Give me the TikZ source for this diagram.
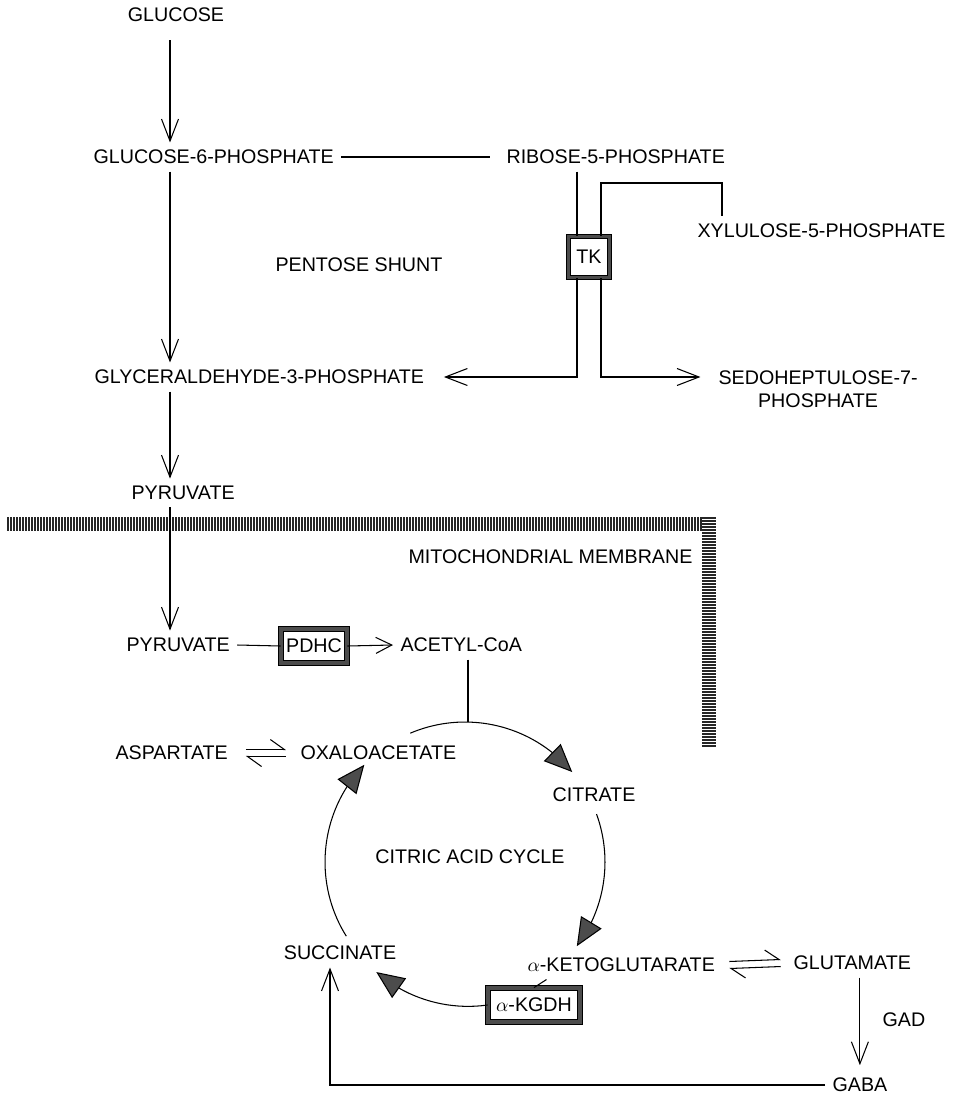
\documentclass[tikz,border=0pt]{standalone}
\usepackage{fontspec}
\setmainfont{Liberation Sans}
\usetikzlibrary{arrows.meta,bending}

\begin{document}
\begin{tikzpicture}[x=0.02cm,y=0.02cm,line width=0.6pt]

\tikzstyle{m}=[inner sep=4pt, font=\fontsize{11.2}{13.4}\selectfont];
\tikzstyle{enz}=[m, draw=black, line width=0.5pt, double=black!70, double distance=2.2pt, fill=white, minimum height=0.68cm, inner sep=2pt];
\tikzstyle{e}=[-{Straight Barb[length=0.44cm,width=0.34cm]}];
\tikzstyle{e2}=[-{Straight Barb[length=0.32cm,width=0.32cm]}];
\tikzstyle{hp}=[-{Straight Barb[left,length=0.28cm,width=0.4cm]}];
\tikzstyle{c}=[-{Triangle[length=0.56cm,width=0.48cm,fill=black!70]}];
\tikzstyle{mb}=[line width=0.8pt, black!85];

\useasboundingbox (0,0) rectangle (953,-1095);

% metabolites
\node[m] (glc) at (176,-15) {GLUCOSE};
\node[m, anchor=west] (g6p) at (86,-157) {GLUCOSE-6-PHOSPHATE};
\node[m, anchor=west] (r5p) at (499,-157) {RIBOSE-5-PHOSPHATE};
\node[m, anchor=west] (xyl) at (690,-231) {XYLULOSE-5-PHOSPHATE};
\node[m, anchor=east] (pent) at (450,-265) {PENTOSE SHUNT};
\node[enz, minimum size=0.82cm] (tk) at (589,-257) {TK};
\node[m, anchor=west] (g3p) at (87,-377) {GLYCERALDEHYDE-3-PHOSPHATE};
\node[m, anchor=north west, align=center] (sed) at (711,-363) {SEDOHEPTULOSE-7-\\PHOSPHATE};
\node[m, anchor=west] (pyr1) at (124,-493) {PYRUVATE};
\node[m, anchor=east] (mito) at (700,-557) {MITOCHONDRIAL MEMBRANE};
\node[m, anchor=west] (pyr2) at (119,-645) {PYRUVATE};
\node[enz, minimum width=1.32cm] (pdhc) at (314,-646) {PDHC};
\node[m, anchor=west] (acoa) at (393,-645) {ACETYL-CoA};
\node[m, anchor=west] (asp) at (108,-753) {ASPARTATE};
\node[m, anchor=west] (oaa) at (293,-753) {OXALOACETATE};
\node[m] (cit) at (594,-795) {CITRATE};
\node[m] (cac) at (470,-857) {CITRIC ACID CYCLE};
\node[m] (succ) at (340,-953) {SUCCINATE};
\node[m, anchor=west] (akg) at (520,-965) {$\alpha$-KETOGLUTARATE};
\node[m, anchor=west] (glu) at (786,-963) {GLUTAMATE};
\node[enz, minimum width=1.84cm] (kgdh) at (534,-1005) {$\alpha$-KGDH};
\node[m, anchor=west] (gad) at (875,-1020) {GAD};
\node[m, anchor=west] (gaba) at (825,-1085) {GABA};

% membrane
\foreach \x in {8,11,...,701} \draw[mb] (\x,-517) -- (\x,-531);
\foreach \y in {518,521,...,747} \draw[mb] (702,-\y) -- (716,-\y);

% glycolysis
\coordinate (sp) at (170,0);
\draw[e, shorten <=6pt] (glc.south -| sp) -- (g6p.north -| sp);
\draw[shorten >=5pt] (g6p.east) -- (r5p.west);
\draw[e] (g6p.south -| sp) -- (g3p.north -| sp);
\draw[e] (g3p.south -| sp) -- (pyr1.north -| sp);
\draw[e] (pyr1.south -| sp) -- (pyr2.north -| sp);

% transketolase
\coordinate (tkl) at (577,-377);
\coordinate (tkr) at (601,-377);
\coordinate (xr) at (722,-183);
\draw (r5p.south -| tkl) -- (tk.north -| tkl);
\draw[e, shorten >=7pt] (tk.south -| tkl) -- (tkl) -- (g3p.east);
\draw (tk.north -| tkr) |- (xr) -- (xr |- xyl.north);
\draw[e, shorten >=6pt] (tk.south -| tkr) -- (tkr) -- (tkr -| sed.west);

% pyruvate dehydrogenase
\draw (pyr2.east) -- (pdhc.west);
\draw[e2] (pdhc.east) -- (acoa.west);

% citric acid cycle
\coordinate (cyc) at (465,-862);
\coordinate (ctop) at (468,-722);
\draw (acoa.south -| ctop) -- (ctop);
\draw[c] ([shift={(113:2.8cm)}]cyc) arc[start angle=113, end angle=40, radius=2.8cm];
\draw[c] ([shift={(20:2.8cm)}]cyc) arc[start angle=20, end angle=-37, radius=2.8cm];
\draw[c] (kgdh.west) arc[start angle=-82, end angle=-131, radius=2.8cm];
\draw[c] ([shift={(-148:2.8cm)}]cyc) arc[start angle=-148, end angle=-224, radius=2.8cm];
\draw (akg.191) -- (kgdh.north);

% exchange reactions
\draw[hp] ([shift={(6pt,2pt)}]asp.east) -- ([shift={(-4pt,2pt)}]oaa.west);
\draw[hp] ([shift={(-4pt,-2pt)}]oaa.west) -- ([shift={(6pt,-2pt)}]asp.east);
\draw[hp] ([shift={(4pt,2pt)}]akg.east) -- ([shift={(-3pt,2pt)}]glu.west);
\draw[hp] ([shift={(-3pt,-2pt)}]glu.west) -- ([shift={(4pt,-2pt)}]akg.east);

% GABA shunt
\coordinate (sx) at (330,-1086);
\draw[e, shorten >=3pt] (glu.south -| gaba.north) -- (gaba.north);
\draw[e] (gaba.west) -- (gaba.west -| sx) -- (sx |- succ.south);

\end{tikzpicture}
\end{document}
